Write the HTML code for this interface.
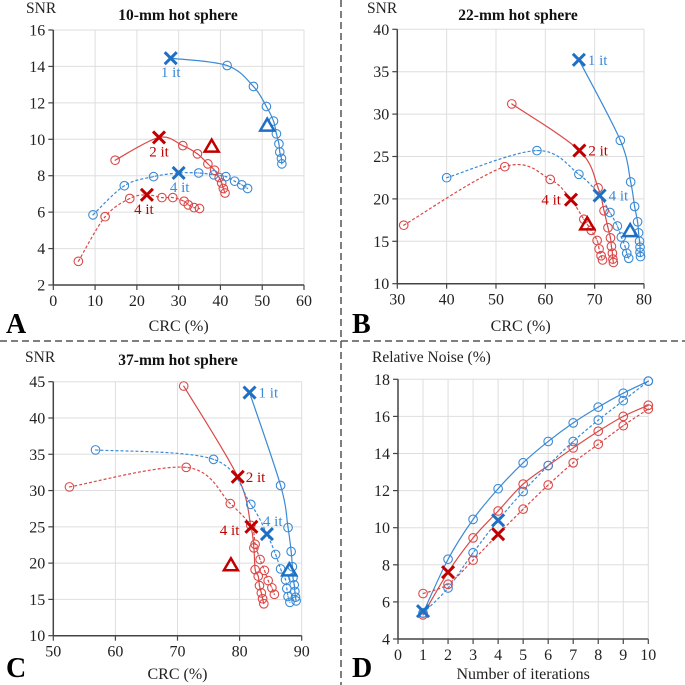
<!DOCTYPE html>
<html><head><meta charset="utf-8">
<style>
html,body{margin:0;padding:0;background:#fff;}
svg{display:block;font-family:"Liberation Serif",serif;}
</style></head>
<body>
<svg id="chart" width="685" height="685" viewBox="0 0 685 685" xmlns="http://www.w3.org/2000/svg">
<line x1="341" y1="0" x2="341" y2="685" stroke="#555" stroke-width="1.5" stroke-dasharray="7,4"/>
<line x1="0" y1="341" x2="685" y2="341" stroke="#555" stroke-width="1.5" stroke-dasharray="7,4"/>
</svg>
<script>
// ---- Panel A data (10-mm) ----
const aBlueSolidX=[28.1,41.6,47.9,51,52.7,53.4,54,54.2,54.6,54.7];
const aBlueSolidY=[14.45,14.05,12.9,11.8,11.0,10.3,9.75,9.3,8.95,8.65];
const aRedSolidX=[14.8,25.3,31,34.5,37,38.6,39.7,40.3,40.7,41.1];
const aRedSolidY=[8.85,10.1,9.65,9.2,8.65,8.3,7.9,7.6,7.3,7.05];
const aBlueDashX=[9.5,17,24,30,34.8,38.4,41.3,43.4,45.1,46.5];
const aBlueDashY=[5.85,7.45,7.95,8.15,8.15,8.05,7.95,7.7,7.5,7.3];
const aRedDashX=[6,12.4,18.3,22.4,26,28.6,31.3,32.3,33.7,35];
const aRedDashY=[3.3,5.75,6.75,6.95,6.8,6.8,6.6,6.4,6.25,6.2];
const aTriangles=[[51.2,10.75],[37.9,9.6]];
// ---- Panel B data (22-mm) ----
const bBlueSolidX=[66.8,75.2,77.3,78.1,78.7,78.9,79.1,79.2,79.2,79.3];
const bBlueSolidY=[36.4,26.9,22,19.1,17.3,16,15,14.3,13.7,13.2];
const bRedSolidX=[53.2,66.9,70.7,71.9,72.7,73.2,73.4,73.6,73.7,73.8];
const bRedSolidY=[31.2,25.7,21.3,18.6,16.6,15.4,14.4,13.6,12.9,12.5];
const bBlueDashX=[40,58.3,66.8,71,73.1,74.6,75.4,76.1,76.5,76.9];
const bBlueDashY=[22.5,25.7,22.9,20.4,18.4,16.8,15.5,14.5,13.6,13.0];
const bRedDashX=[31.3,51.8,61,65.2,67.8,69.3,70.5,70.9,71.3,71.6];
const bRedDashY=[16.9,23.8,22.3,19.9,17.6,16.3,15.1,14.1,13.3,12.8];
const bTriangles=[[77.2,16.2],[68.5,17.0]];
// ---- Panel C data (37-mm) ----
const cBlueSolidX=[81.6,86.6,87.8,88.3,88.5,88.6,88.8,88.9,89,89.1];
const cBlueSolidY=[43.5,30.7,24.9,21.6,19.5,18,17,16.1,15.3,14.8];
const cRedSolidX=[71,79.7,81.8,82.3,82.5,83,83.2,83.5,83.7,83.9];
const cRedSolidY=[44.4,31.9,25.2,22.1,19.1,18.2,16.9,15.9,15.1,14.4];
const cBlueDashX=[56.8,75.8,81.8,84.4,85.8,86.6,87.4,87.6,87.8,88.1];
const cBlueDashY=[35.6,34.3,28.1,24,21.2,19.2,17.7,16.5,15.4,14.6];
const cRedDashX=[52.6,71.4,78.5,81.9,82.5,83.3,84,84.6,85.2,85.6];
const cRedDashY=[30.5,33.2,28.2,25.0,22.6,20.5,19,17.6,16.6,15.7];
const cTriangles=[[88,19],[78.6,19.7]];
// ---- Panel D data (noise vs iterations) ----
const dIter=[1,2,3,4,5,6,7,8,9,10];
const dBlueSolid=[5.4,8.3,10.45,12.1,13.5,14.65,15.65,16.5,17.25,17.9];
const dBlueDash=[5.4,6.75,8.65,10.4,11.95,13.35,14.65,15.8,16.85,17.9];
const dRedSolid=[5.3,7.6,9.45,10.9,12.35,13.35,14.3,15.2,16,16.6];
const dRedDash=[6.45,6.95,8.25,9.65,11.0,12.3,13.5,14.5,15.5,16.4];

const svg=document.getElementById('chart');
const NS='http://www.w3.org/2000/svg';
const BLUE='#3b8ad6',RED='#dc4848',BLUEX='#1f70c4',REDX='#c00000';
function mk(tag,attrs,parent){const e=document.createElementNS(NS,tag);for(const k in attrs)e.setAttribute(k,attrs[k]);(parent||svg).appendChild(e);return e;}
function txt(s,x,y,size,anchor,fill,weight,parent){const t=mk('text',{x:x,y:y,'font-size':size,'text-anchor':anchor||'start',fill:fill||'#222','font-weight':weight||'normal'},parent);t.textContent=s;return t;}

function panel(cfg){
  const g=mk('g',{});
  
  
  const sx=v=>cfg.x0+(v-cfg.xmin)/(cfg.xmax-cfg.xmin)*(cfg.x1-cfg.x0);
  const sy=v=>cfg.y0-(v-cfg.ymin)/(cfg.ymax-cfg.ymin)*(cfg.y0-cfg.y1);
  for(let v=cfg.xmin;v<=cfg.xmax+1e-9;v+=cfg.xstep){
    const gl=mk('line',{x1:sx(v),x2:sx(v),y1:cfg.y1,y2:cfg.y0,stroke:'#dedede','stroke-width':1},g);
    
    mk('line',{x1:sx(v),x2:sx(v),y1:cfg.y0,y2:cfg.y0+5,stroke:'#444','stroke-width':1.2},g);
    const t=txt(String(v),sx(v),cfg.y0+21,16,'middle','#222','normal',g);
    
  }
  for(let v=cfg.ymin;v<=cfg.ymax+1e-9;v+=cfg.ystep){
    const gl=mk('line',{x1:cfg.x0,x2:cfg.x1,y1:sy(v),y2:sy(v),stroke:'#dedede','stroke-width':1},g);
    
    mk('line',{x1:cfg.x0-5,x2:cfg.x0,y1:sy(v),y2:sy(v),stroke:'#444','stroke-width':1.2},g);
    const t=txt(String(v),cfg.x0-8,sy(v)+5.5,16,'end','#222','normal',g);
    
  }
  const ya=mk('line',{x1:cfg.x0,x2:cfg.x0,y1:cfg.y1,y2:cfg.y0,stroke:'#444','stroke-width':1.5},g);
  
  const xa=mk('line',{x1:cfg.x0,x2:cfg.x1,y1:cfg.y0,y2:cfg.y0,stroke:'#444','stroke-width':1.5},g);
  
  if(cfg.title){const t=txt(cfg.title,cfg.titleX,cfg.titleY,15.5,'middle','#111','bold',g);
    }
  const yl=txt(cfg.ylabel,cfg.ylabX,cfg.ylabY,15.5,'start','#222','normal',g);
  
  const xl=txt(cfg.xlabel,(cfg.x0+cfg.x1)/2,cfg.xlabY,16,'middle','#222','normal',g);
  
  const pl=txt(cfg.letter,cfg.letX,cfg.letY,28,'start','#000','bold',g);
  
  return {g,sx,sy};
}
function curve(P,xs,ys,color,dashed,name){
  const pts=xs.map((x,i)=>[P.sx(x),P.sy(ys[i])]);
  let d='M'+pts[0][0]+','+pts[0][1];
  for(let i=0;i<pts.length-1;i++){
    const p0=pts[Math.max(0,i-1)],p1=pts[i],p2=pts[i+1],p3=pts[Math.min(pts.length-1,i+2)];
    const t=0.5/3;
    d+=' C'+(p1[0]+(p2[0]-p0[0])*t)+','+(p1[1]+(p2[1]-p0[1])*t)+' '+(p2[0]-(p3[0]-p1[0])*t)+','+(p2[1]-(p3[1]-p1[1])*t)+' '+p2[0]+','+p2[1];
  }
  const path=mk('path',{d:d,fill:'none',stroke:color,'stroke-width':1.2,'stroke-dasharray':dashed?'3,2':'none'},P.g);
  
  
  return pts;
}
function circles(P,xs,ys,color,name,skip){
  xs.forEach((x,i)=>{
    if(skip&&skip.includes(i))return;
    const c=mk('circle',{cx:P.sx(x),cy:P.sy(ys[i]),r:4.3,fill:'none',stroke:color,'stroke-width':1.1},P.g);
    
    
    mk('circle',{cx:P.sx(x),cy:P.sy(ys[i]),r:0.6,fill:color},P.g);
  });
}
function cross(P,x,y,color){
  const cx=P.sx(x),cy=P.sy(y),s=6;
  const p=mk('path',{d:`M${cx-s},${cy-s}L${cx+s},${cy+s}M${cx-s},${cy+s}L${cx+s},${cy-s}`,stroke:color,'stroke-width':3,fill:'none'},P.g);
  
  
}
function tri(P,x,y,color){
  const cx=P.sx(x),cy=P.sy(y);
  const p=mk('path',{d:`M${cx},${cy-7}L${cx+7},${cy+5}L${cx-7},${cy+5}Z`,stroke:color,'stroke-width':2.5,fill:'none'},P.g);
  
  
}
function lab(P,s,x,y,dx,dy,color,anchor){
  const t=txt(s,P.sx(x)+dx,P.sy(y)+dy,15,anchor||'start',color,'normal',P.g);
  
  
}
function scatterPanel(P,bsx,bsy,rsx,rsy,bdx,bdy,rdx,rdy,tris){
  curve(P,bsx,bsy,BLUE,false,'blue-solid');curve(P,rsx,rsy,RED,false,'red-solid');
  curve(P,bdx,bdy,BLUE,true,'blue-dashed');curve(P,rdx,rdy,RED,true,'red-dashed');
  circles(P,bsx,bsy,BLUE,'blue-solid',[0]);circles(P,rsx,rsy,RED,'red-solid',[1]);
  circles(P,bdx,bdy,BLUE,'blue-dashed',[3]);circles(P,rdx,rdy,RED,'red-dashed',[3]);
  cross(P,bsx[0],bsy[0],BLUEX);cross(P,rsx[1],rsy[1],REDX);
  cross(P,bdx[3],bdy[3],BLUEX);cross(P,rdx[3],rdy[3],REDX);
  tri(P,tris[0][0],tris[0][1],BLUEX);tri(P,tris[1][0],tris[1][1],REDX);
}

// Panel A
const A=panel({name:'panel-a-10mm',x0:53.3,x1:304,y0:285,y1:30,xmin:0,xmax:60,xstep:10,ymin:2,ymax:16,ystep:2,
  title:'10-mm hot sphere',titleX:178,titleY:20,ylabel:'SNR',ylabX:26,ylabY:13,xlabel:'CRC (%)',xlabY:331,letter:'A',letX:6,letY:333});
scatterPanel(A,aBlueSolidX,aBlueSolidY,aRedSolidX,aRedSolidY,aBlueDashX,aBlueDashY,aRedDashX,aRedDashY,aTriangles);
lab(A,'1 it',aBlueSolidX[0],aBlueSolidY[0],0,19,BLUE,'middle');
lab(A,'2 it',aRedSolidX[1],aRedSolidY[1],0,19,REDX,'middle');
lab(A,'4 it',aBlueDashX[3],aBlueDashY[3],1,19,BLUE,'middle');
lab(A,'4 it',aRedDashX[3],aRedDashY[3],-3,19,REDX,'middle');

// Panel B
const B=panel({name:'panel-b-22mm',x0:397.3,x1:644,y0:283.7,y1:29.3,xmin:30,xmax:80,xstep:10,ymin:10,ymax:40,ystep:5,
  title:'22-mm hot sphere',titleX:518,titleY:20,ylabel:'SNR',ylabX:367,ylabY:13,xlabel:'CRC (%)',xlabY:331,letter:'B',letX:352,letY:333});
scatterPanel(B,bBlueSolidX,bBlueSolidY,bRedSolidX,bRedSolidY,bBlueDashX,bBlueDashY,bRedDashX,bRedDashY,bTriangles);
lab(B,'1 it',bBlueSolidX[0],bBlueSolidY[0],9,5,BLUE);
lab(B,'2 it',bRedSolidX[1],bRedSolidY[1],9,5,REDX);
lab(B,'4 it',bBlueDashX[3],bBlueDashY[3],9,5,BLUE);
lab(B,'4 it',bRedDashX[3],bRedDashY[3],-10,5,REDX,'end');

// Panel C
const C=panel({name:'panel-c-37mm',x0:53.3,x1:301.7,y0:635.7,y1:381.7,xmin:50,xmax:90,xstep:10,ymin:10,ymax:45,ystep:5,
  title:'37-mm hot sphere',titleX:178,titleY:365,ylabel:'SNR',ylabX:25,ylabY:362,xlabel:'CRC (%)',xlabY:679,letter:'C',letX:6,letY:677});
scatterPanel(C,cBlueSolidX,cBlueSolidY,cRedSolidX,cRedSolidY,cBlueDashX,cBlueDashY,cRedDashX,cRedDashY,cTriangles);
lab(C,'1 it',cBlueSolidX[0],cBlueSolidY[0],9,5,BLUE);
lab(C,'2 it',cRedSolidX[1],cRedSolidY[1],8,5,REDX);
lab(C,'4 it',cBlueDashX[3],cBlueDashY[3],-4,-8,BLUE);
lab(C,'4 it',cRedDashX[3],cRedDashY[3],-12,8,REDX,'end');

// Panel D
const D=panel({name:'panel-d-noise',x0:398,x1:648.3,y0:639,y1:379.3,xmin:0,xmax:10,xstep:1,ymin:4,ymax:18,ystep:2,
  title:null,ylabel:'Relative Noise (%)',ylabX:372,ylabY:362,xlabel:'Number of iterations',xlabY:679,letter:'D',letX:352,letY:677});
curve(D,dIter,dBlueSolid,BLUE,false,'blue-solid');curve(D,dIter,dRedSolid,RED,false,'red-solid');
curve(D,dIter,dBlueDash,BLUE,true,'blue-dashed');curve(D,dIter,dRedDash,RED,true,'red-dashed');
circles(D,dIter,dBlueSolid,BLUE,'blue-solid');circles(D,dIter,dRedSolid,RED,'red-solid',[1]);
circles(D,dIter,dBlueDash,BLUE,'blue-dashed',[3]);circles(D,dIter,dRedDash,RED,'red-dashed',[3]);
cross(D,dIter[0],dBlueSolid[0]+0.1,BLUEX);cross(D,dIter[3],dBlueDash[3],BLUEX);
cross(D,dIter[1],dRedSolid[1],REDX);cross(D,dIter[3],dRedDash[3],REDX);
</script>
</body></html>
